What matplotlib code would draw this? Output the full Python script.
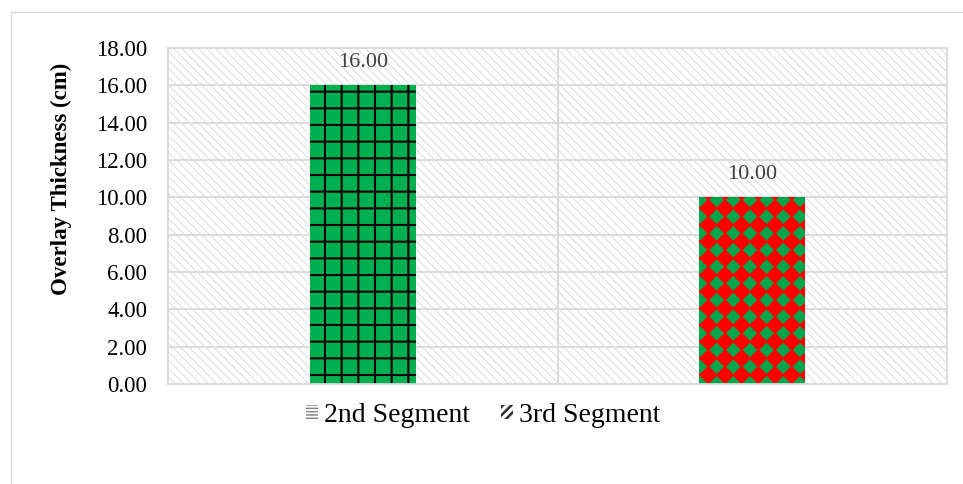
import numpy as np
import matplotlib
matplotlib.use("Agg")
import matplotlib.pyplot as plt
import matplotlib.hatch as mhatch
from matplotlib.patches import Rectangle, Patch
from matplotlib.path import Path

# ---------------- data ----------------
segments = ["2nd Segment", "3rd Segment"]
thickness = [16.00, 10.00]
yticks = [0, 2, 4, 6, 8, 10, 12, 14, 16, 18]

# ---------------- custom diamond-grid hatch (replaces '*') ----------------
class DiamondGrid(mhatch.HatchPatternBase):
    def __init__(self, hatch, density):
        self.n = int(hatch.count('*') * density)
        self.num_vertices = (self.n + 1) ** 2 * 5 if self.n else 0

    def set_vertices_and_codes(self, vertices, codes):
        n = self.n
        r = 0.43 / n
        shape = np.array([[0, -r], [r, 0], [0, r], [-r, 0], [0, -r]])
        sc = [Path.MOVETO, Path.LINETO, Path.LINETO, Path.LINETO, Path.CLOSEPOLY]
        k = 0
        for i in range(n + 1):
            for j in range(n + 1):
                vertices[k:k + 5] = shape + [i / n, j / n]
                codes[k:k + 5] = sc
                k += 5

    get_path = set_vertices_and_codes

mhatch._hatch_types = [h for h in mhatch._hatch_types if h.__name__ != "Stars"] + [DiamondGrid]

plt.rcParams['font.family'] = ['Liberation Serif', 'DejaVu Serif']

fig = plt.figure(figsize=(9.63, 4.84), dpi=100)
ax = fig.add_axes([168 / 963, 1 - 384 / 484, (947 - 168) / 963, (384 - 48) / 484])

# outer chart border
fig.add_artist(Rectangle((11 / 963, -0.5), 2, 1.5 - 11.5 / 484, transform=fig.transFigure,
                         facecolor='none', edgecolor='#D9D9D9', lw=1.0))

# hatched plot background
bg = Rectangle((0, 0), 1, 1, transform=ax.transAxes, facecolor='white',
               edgecolor='#DCDCDC', hatch='\\\\\\\\', lw=0, zorder=0.1)
ax.add_patch(bg)
if hasattr(bg, 'set_hatch_linewidth'):
    bg.set_hatch_linewidth(0.7)
ax.patch.set_visible(False)

x = np.arange(len(segments))
styles = [dict(face='#00B050', hc='black', hatch='+', hlw=1.5),
          dict(face='#FF0000', hc='#00A64B', hatch='*', hlw=0.2)]
for xi, val, st in zip(x, thickness, styles):
    b = ax.bar(xi, val, width=0.272, color=st['face'], edgecolor=st['hc'],
               hatch=st['hatch'], lw=0, zorder=2)[0]
    if hasattr(b, 'set_hatch_linewidth'):
        b.set_hatch_linewidth(st['hlw'])
    ax.annotate(f"{val:.2f}", (xi, val), xytext=(0, 13), textcoords='offset points',
                ha='center', va='baseline', fontsize=16, color='#404040')

ax.set_xlim(-0.5, len(segments) - 0.5)
ax.set_ylim(0, 18)
ax.set_yticks(yticks)
ax.set_yticklabels([f"{v:.2f}" for v in yticks])
ax.set_xticks(x)
ax.set_xticklabels([])
ax.set_xticks([0.5], minor=True)
ax.tick_params(axis='both', which='both', length=0)
ax.tick_params(axis='y', labelsize=16.5, pad=15, labelcolor='black')
ax.set_axisbelow(True)
ax.grid(True, axis='y', which='major', color='#D9D9D9', lw=1.3)
ax.grid(True, axis='x', which='minor', color='#D9D9D9', lw=1.3)
for s in ax.spines.values():
    s.set_color('#D9D9D9')
    s.set_linewidth(1.3)

ax.set_ylabel("Overlay Thickness (cm)", fontsize=16.5, fontweight='bold')
ax.yaxis.set_label_coords(-0.123, 0.61)

h1 = Patch(facecolor='white', edgecolor='#808080', hatch='-----', lw=0)
h2 = Patch(facecolor='white', edgecolor='#303030', hatch='////', lw=0)
if hasattr(h2, 'set_hatch_linewidth'):
    h2.set_hatch_linewidth(1.8)
leg = fig.legend([h1, h2], segments, loc='center', bbox_to_anchor=(483 / 963, 1 - 415 / 484),
                 ncol=2, frameon=False, fontsize=20, handlelength=0.45, handleheight=0.4,
                 handletextpad=0.2, columnspacing=1.1)
hp = leg.get_patches()
if len(hp) == 2 and hasattr(hp[1], 'set_hatch_linewidth'):
    hp[1].set_hatch_linewidth(1.8)

fig.savefig("out.png", dpi=100)
